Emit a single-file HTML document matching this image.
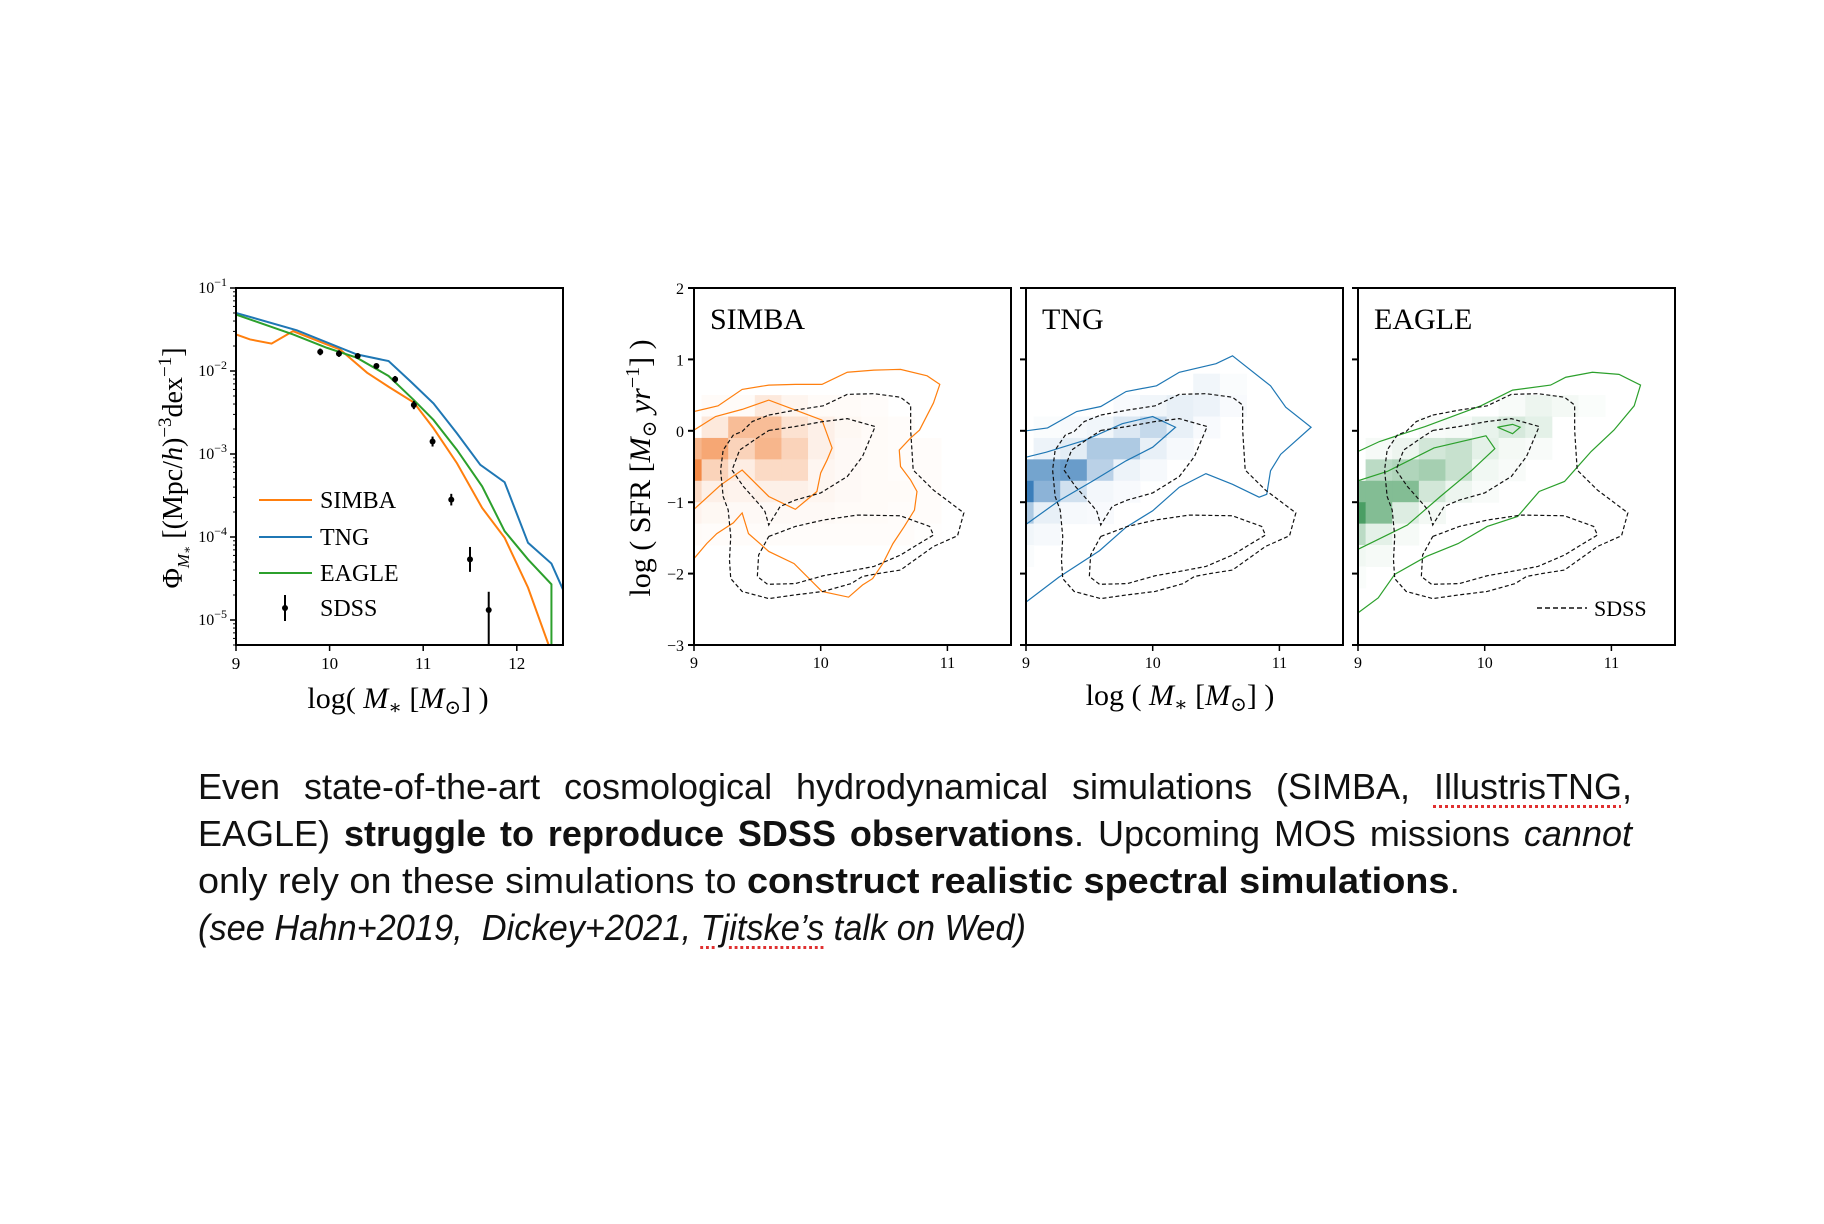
<!DOCTYPE html>
<html><head><meta charset="utf-8">
<style>
html,body{margin:0;padding:0;background:#fff;}
body{width:1824px;height:1224px;position:relative;overflow:hidden;}
svg{position:absolute;left:0;top:0;}
.serif{font-family:"Liberation Serif","DejaVu Serif",serif;}
#caption{position:absolute;left:198px;top:763px;width:1434px;font-family:"Liberation Sans","DejaVu Sans",sans-serif;font-size:36px;line-height:47px;color:#111;}
.ln{white-space:nowrap;}
.just{text-align:justify;text-align-last:justify;white-space:normal;}
.sq{text-decoration:underline dotted #e03030;text-decoration-thickness:3px;text-underline-offset:6px;}
</style></head>
<body>
<svg id="fig" width="1824" height="760" xmlns="http://www.w3.org/2000/svg"></svg>
<div id="caption">
<div class="ln just">Even state-of-the-art cosmological hydrodynamical simulations (SIMBA, <span class="sq">IllustrisTNG</span>,</div>
<div class="ln just">EAGLE) <b>struggle to reproduce SDSS observations</b>. Upcoming MOS missions <i>cannot</i></div>
<div class="ln fit" data-w="1262"><span>only rely on these simulations to <b>construct realistic spectral simulations</b>.</span></div>
<div class="ln fit" data-w="828"><span><i>(see Hahn+2019,&nbsp; Dickey+2021, <span class="sq">Tjitske’s</span> talk on Wed)</i></span></div>
</div>
<script>
// ---------- Left panel data (stellar mass function) ----------
const smfSimbaX=[9,9.15,9.38,9.61,9.97,10.11,10.4,10.63,10.9,11.11,11.36,11.63,11.87,12.12,12.34];
const smfSimbaY=[-1.56,-1.62,-1.67,-1.52,-1.68,-1.74,-2.02,-2.19,-2.38,-2.69,-3.11,-3.65,-4.01,-4.61,-5.3];
const smfTngX=[9,9.65,10.29,10.63,10.86,11.11,11.36,11.61,11.87,12.12,12.37,12.5];
const smfTngY=[-1.30,-1.51,-1.80,-1.88,-2.12,-2.39,-2.75,-3.13,-3.34,-4.07,-4.32,-4.65];
const smfEagleX=[9,9.61,9.97,10.29,10.63,10.9,11.11,11.36,11.63,11.87,12.12,12.37,12.37];
const smfEagleY=[-1.32,-1.56,-1.72,-1.84,-2.06,-2.35,-2.59,-2.95,-3.39,-3.93,-4.27,-4.57,-5.3];
const sdssX=[9.9,10.1,10.3,10.5,10.7,10.9,11.1,11.3,11.5,11.7];
const sdssY=[-1.77,-1.79,-1.82,-1.94,-2.10,-2.41,-2.85,-3.55,-4.27,-4.88];
const sdssErr=[0.04,0.04,0.03,0.03,0.04,0.05,0.06,0.07,0.15,0.22];
const smfXTicks=[9,10,11,12];
const smfYTicks=[-1,-2,-3,-4,-5];
// ---------- SFR-M* panels ----------
const panelNames=["SIMBA","TNG","EAGLE"];
const sfrXTicks=[9,10,11];
const sfrYTicks=[2,1,0,-1,-2,-3];
const binX0=8.85, binDX=0.21, binY0=0.8, binDY=0.3;
const heatSimba=[
[0,0,0,0,0,0,0,0,0,0,0,0,0],
[0,0.03,0.03,0.15,0.07,0.03,0.03,0.02,0,0,0,0,0],
[0,0.15,0.45,0.45,0.2,0.1,0.05,0.03,0.02,0,0,0,0],
[0.5,0.6,0.3,0.5,0.3,0.1,0.04,0.03,0.02,0.02,0,0,0],
[0.8,0.3,0.12,0.25,0.25,0.06,0.04,0.03,0.02,0.02,0,0,0],
[0.25,0.1,0.08,0.1,0.1,0.06,0.04,0.03,0.03,0.02,0,0,0],
[0.08,0.05,0.04,0.04,0.04,0.04,0.03,0.03,0.02,0.02,0,0,0],
[0.03,0.02,0.02,0.02,0.02,0.02,0.02,0.02,0.02,0.01,0,0,0],
[0,0,0,0,0,0,0,0,0,0,0,0,0],
[0,0,0,0,0,0,0,0,0,0,0,0,0]];
const heatTng=[
[0,0,0,0,0,0,0,0.06,0.02,0,0,0,0],
[0,0,0,0,0.03,0.06,0.1,0.08,0.03,0,0,0,0],
[0,0.02,0.04,0.06,0.15,0.25,0.1,0.03,0,0,0,0,0],
[0,0.08,0.12,0.35,0.35,0.1,0.04,0,0,0,0,0,0],
[0.6,0.6,0.65,0.3,0.08,0.04,0,0,0,0,0,0,0],
[0.85,0.5,0.2,0.05,0.03,0,0,0,0,0,0,0,0],
[0.35,0.1,0.04,0.03,0,0,0,0,0,0,0,0,0],
[0.06,0.04,0,0,0,0,0,0,0,0,0,0,0],
[0.02,0,0,0,0,0,0,0,0,0,0,0,0],
[0,0,0,0,0,0,0,0,0,0,0,0,0]];
const heatEagle=[
[0,0,0,0,0,0,0,0,0,0,0,0,0],
[0,0,0,0,0,0,0.03,0.08,0.05,0.02,0,0,0],
[0,0,0,0.03,0.04,0.1,0.18,0.12,0,0,0,0,0],
[0,0.04,0.08,0.2,0.25,0.12,0.05,0.03,0,0,0,0,0],
[0,0.3,0.35,0.4,0.25,0.06,0.03,0,0,0,0,0,0],
[0.55,0.55,0.55,0.2,0.08,0.03,0,0,0,0,0,0,0],
[0.8,0.55,0.15,0.05,0,0,0,0,0,0,0,0,0],
[0.3,0.12,0.04,0,0,0,0,0,0,0,0,0,0],
[0.06,0.04,0,0,0,0,0,0,0,0,0,0,0],
[0.02,0,0,0,0,0,0,0,0,0,0,0,0]];
const sdssOuter=[[9.59,0.22],[9.80,0.29],[10.02,0.35],[10.21,0.51],[10.42,0.52],[10.63,0.47],[10.71,0.36],[10.71,0.01],[10.73,-0.55],[10.89,-0.83],[11.13,-1.15],[11.08,-1.47],[10.89,-1.62],[10.63,-1.95],[10.45,-2.0],[10.33,-2.04],[10.24,-2.14],[10.02,-2.25],[9.79,-2.30],[9.59,-2.35],[9.38,-2.25],[9.29,-2.07],[9.28,-1.81],[9.29,-1.48],[9.27,-1.11],[9.23,-0.92],[9.21,-0.55],[9.23,-0.27],[9.31,-0.06],[9.38,-0.01],[9.46,0.13],[9.59,0.22]];
const sdssInnerUp=[[9.59,0.005],[9.80,0.06],[10.02,0.13],[10.21,0.17],[10.43,0.06],[10.33,-0.36],[10.21,-0.64],[10.0,-0.87],[9.80,-0.97],[9.68,-1.06],[9.59,-1.32],[9.56,-1.13],[9.52,-1.04],[9.39,-0.78],[9.30,-0.55],[9.36,-0.27],[9.50,-0.10],[9.59,0.005]];
const sdssInnerLow=[[9.59,-1.48],[9.80,-1.34],[10.02,-1.25],[10.29,-1.18],[10.63,-1.19],[10.86,-1.34],[10.89,-1.46],[10.74,-1.62],[10.63,-1.74],[10.42,-1.90],[10.21,-1.97],[10.02,-2.03],[9.80,-2.14],[9.58,-2.15],[9.50,-2.04],[9.51,-1.74],[9.59,-1.48]];
const simbaOuter=[[9,0.27],[9.19,0.35],[9.38,0.58],[9.59,0.64],[9.80,0.65],[10.01,0.65],[10.21,0.82],[10.42,0.85],[10.63,0.86],[10.84,0.77],[10.94,0.65],[10.89,0.39],[10.78,0.01],[10.71,-0.10],[10.62,-0.27],[10.63,-0.5],[10.71,-0.69],[10.76,-0.85],[10.74,-1.11],[10.66,-1.34],[10.57,-1.58],[10.49,-1.86],[10.41,-2.07],[10.33,-2.16],[10.22,-2.33],[10.01,-2.25],[9.79,-1.86],[9.59,-1.69],[9.52,-1.58],[9.43,-1.44],[9.38,-1.15],[9.31,-1.29],[9.18,-1.44],[9.1,-1.58],[9,-1.79]];
const simbaMid=[[9,0.01],[9.17,0.20],[9.38,0.30],[9.59,0.43],[9.80,0.29],[10.01,0.15],[10.09,-0.24],[10.05,-0.41],[10.0,-0.59],[9.97,-0.85],[9.80,-1.10],[9.59,-0.92],[9.38,-0.55],[9.21,-0.76],[9,-1.10]];
const tngOuter=[[9,0],[9.17,0.04],[9.40,0.27],[9.59,0.34],[9.79,0.55],[10.03,0.63],[10.21,0.82],[10.5,0.94],[10.63,1.05],[10.93,0.63],[11.05,0.33],[11.25,0.05],[11.01,-0.33],[10.93,-0.56],[10.90,-0.89],[10.84,-0.93],[10.63,-0.75],[10.42,-0.60],[10.21,-0.79],[10.0,-1.12],[9.79,-1.35],[9.58,-1.68],[9.26,-2.05],[9,-2.40]];
const tngMid=[[9,-0.37],[9.16,-0.30],[9.47,-0.13],[9.76,0.10],[10.0,0.2],[10.18,0.05],[10.0,-0.23],[9.79,-0.42],[9.53,-0.7],[9.26,-0.98],[9,-1.31]];
const eagleOuter=[[9,-0.29],[9.17,-0.15],[9.53,0.06],[9.97,0.35],[10.22,0.57],[10.52,0.64],[10.64,0.75],[10.85,0.82],[11.06,0.79],[11.23,0.64],[11.18,0.35],[11.02,0.01],[10.84,-0.29],[10.71,-0.55],[10.63,-0.71],[10.43,-0.85],[10.26,-1.20],[10.02,-1.34],[9.79,-1.58],[9.54,-1.76],[9.29,-2.01],[9.16,-2.34],[9,-2.55]];
const eagleMid=[[9,-0.70],[9.23,-0.57],[9.60,-0.24],[10.01,-0.07],[10.08,-0.25],[9.9,-0.55],[9.65,-0.92],[9.39,-1.32],[9,-1.66]];
const eagleTiny=[[10.10,0.05],[10.22,0.09],[10.28,0.05],[10.22,-0.04],[10.10,0.05]];

const NS="http://www.w3.org/2000/svg";
const svg=document.getElementById('fig');
function mk(tag,attrs,parent){const e=document.createElementNS(NS,tag);for(const k in attrs)e.setAttribute(k,attrs[k]);(parent||svg).appendChild(e);return e;}

// ---------- Left panel ----------
const LX0=236,LX1=563,LY0=288,LY1=645;
const lx=v=>LX0+(v-9)*93.6;
const ly=l=>LY0+(-1-l)*83;
const gL=mk('g',{});


const cpl=mk('clipPath',{id:'clipL'},gL);
mk('rect',{x:LX0,y:LY0,width:LX1-LX0,height:LY1-LY0},cpl);
function smfLine(xs,ys,col,name){
  const p=mk('polyline',{points:xs.map((x,i)=>lx(x)+','+ly(ys[i])).join(' '),fill:'none',stroke:col,'stroke-width':2,'clip-path':'url(#clipL)'},gL);
  
  
}
smfLine(smfSimbaX,smfSimbaY,'#ff7f0e','simba-smf-line');
smfLine(smfTngX,smfTngY,'#1f77b4','tng-smf-line');
smfLine(smfEagleX,smfEagleY,'#2ca02c','eagle-smf-line');
sdssX.forEach((x,i)=>{
  const yt=ly(sdssY[i]+sdssErr[i]);
  const yb=i===sdssX.length-1?LY1:ly(sdssY[i]-sdssErr[i]);
  const e=mk('line',{x1:lx(x),x2:lx(x),y1:yt,y2:yb,stroke:'#000','stroke-width':2},gL);
  
  
  const c=mk('circle',{cx:lx(x),cy:ly(sdssY[i]),r:3,fill:'#000'},gL);
  
  
});
mk('rect',{x:LX0,y:LY0,width:LX1-LX0,height:LY1-LY0,fill:'none',stroke:'#000','stroke-width':2},gL);
smfXTicks.forEach(t=>{
  mk('line',{x1:lx(t),x2:lx(t),y1:LY1,y2:LY1+6,stroke:'#000','stroke-width':1.5},gL);
  const tx=mk('text',{x:lx(t),y:LY1+24,'text-anchor':'middle','font-size':17,class:'serif'},gL);tx.textContent=t;
  
  
});
smfYTicks.forEach(t=>{
  mk('line',{x1:LX0-6,x2:LX0,y1:ly(t),y2:ly(t),stroke:'#000','stroke-width':1.5},gL);
  for(let m=2;m<10;m++){const yy=ly(t-1+Math.log10(m));if(yy>=LY0&&yy<=LY1)mk('line',{x1:LX0-3,x2:LX0,y1:yy,y2:yy,stroke:'#000','stroke-width':1},gL);}
  const tx=mk('text',{x:LX0-9,y:ly(t)+5,'text-anchor':'end','font-size':16,class:'serif'},gL);
  tx.innerHTML='10<tspan dy="-7" font-size="12">−'+(-t)+'</tspan>';
  
  
});
const legCols=['#ff7f0e','#1f77b4','#2ca02c'],legNames=['SIMBA','TNG','EAGLE','SDSS'],legY=[500,537,573,608];
legNames.forEach((n,i)=>{
  if(i<3)mk('line',{x1:259,x2:312,y1:legY[i],y2:legY[i],stroke:legCols[i],'stroke-width':2},gL);
  else{mk('line',{x1:285,x2:285,y1:legY[i]-13,y2:legY[i]+13,stroke:'#000','stroke-width':2},gL);mk('circle',{cx:285,cy:legY[i],r:3,fill:'#000'},gL);}
  const t=mk('text',{x:320,y:legY[i]+8,'font-size':24,class:'serif'},gL);t.textContent=n;
  
  
});
const xlL=mk('text',{x:398,y:708,'text-anchor':'middle','font-size':30,class:'serif'},gL);
xlL.innerHTML='log( <tspan font-style="italic">M</tspan><tspan font-size="20" dy="6">∗</tspan><tspan dy="-6"> [</tspan><tspan font-style="italic">M</tspan><tspan font-size="20" dy="6">⊙</tspan><tspan dy="-6">] )</tspan>';


const ylL=mk('text',{x:0,y:0,'text-anchor':'middle','font-size':28,class:'serif',transform:'translate(182,468) rotate(-90)'},gL);
ylL.innerHTML='Φ<tspan font-size="17" dy="7" font-style="italic">M</tspan><tspan font-size="12" dy="2">∗</tspan><tspan dy="-9"> [(Mpc/</tspan><tspan font-style="italic">h</tspan>)<tspan font-size="19" dy="-11">−3</tspan><tspan dy="11">dex</tspan><tspan font-size="19" dy="-11">−1</tspan><tspan dy="11">]</tspan>';



// ---------- SFR panels ----------
const PL=[694,1026,1358],PW=317,PY0=288,PY1=645;
const heats=[heatSimba,heatTng,heatEagle];
const heatCol=[[240,115,35],[35,110,178],[40,140,70]];
const lineCol=['#ff7f0e','#1f77b4','#2ca02c'];
const simContours=[[simbaOuter,simbaMid],[tngOuter,tngMid],[eagleOuter,eagleMid,eagleTiny]];
panelNames.forEach((name,p)=>{
  const L=PL[p];
  const px=v=>L+(v-9)*126.7, py=v=>PY0+(2-v)*71.4;
  const g=mk('g',{});
  
  
  const cp=mk('clipPath',{id:'clip'+p},g);mk('rect',{x:L,y:PY0,width:PW,height:PY1-PY0},cp);
  const gh=mk('g',{'clip-path':'url(#clip'+p+')'},g);
  heats[p].forEach((row,r)=>row.forEach((v,c)=>{
    if(v<=0)return;
    const x0=px(binX0+c*binDX),x1=px(binX0+(c+1)*binDX),y0=py(binY0-r*binDY),y1=py(binY0-(r+1)*binDY);
    const col=heatCol[p].map(k=>Math.round(255-(255-k)*Math.min(1,v*1.05)));
    const cell=mk('rect',{x:x0,y:y0,width:x1-x0+0.5,height:y1-y0+0.5,fill:'rgb('+col.join(',')+')'},gh);
    
    
  }));
  simContours[p].forEach(c=>{
    const pl=mk('polyline',{points:c.map(q=>px(q[0])+','+py(q[1])).join(' '),fill:'none',stroke:lineCol[p],'stroke-width':1.2},gh);
    
    
  });
  [sdssOuter,sdssInnerUp,sdssInnerLow].forEach(c=>{
    const pl=mk('polyline',{points:c.map(q=>px(q[0])+','+py(q[1])).join(' '),fill:'none',stroke:'#111','stroke-width':1.2,'stroke-dasharray':'4,2.5'},gh);
    
    
  });
  mk('rect',{x:L,y:PY0,width:PW,height:PY1-PY0,fill:'none',stroke:'#000','stroke-width':2},g);
  const ti=mk('text',{x:L+16,y:329,'font-size':30,class:'serif'},g);ti.textContent=name;
  
  
  sfrXTicks.forEach(t=>{
    mk('line',{x1:px(t),x2:px(t),y1:PY1,y2:PY1+6,stroke:'#000','stroke-width':1.5},g);
    const tx=mk('text',{x:px(t),y:PY1+23,'text-anchor':'middle','font-size':16,class:'serif'},g);tx.textContent=t;
    
    
  });
  sfrYTicks.forEach(t=>{
    mk('line',{x1:L-6,x2:L,y1:py(t),y2:py(t),stroke:'#000','stroke-width':2},g);
    if(p===0){const tx=mk('text',{x:L-10,y:py(t)+6,'text-anchor':'end','font-size':16,class:'serif'},g);tx.textContent=t<0?'−'+(-t):t;
      
      }
  });
  if(p===2){
    mk('line',{x1:1537,x2:1587,y1:608,y2:608,stroke:'#111','stroke-width':1.5,'stroke-dasharray':'5,3'},g);
    const t=mk('text',{x:1594,y:616,'font-size':22,class:'serif'},g);t.textContent='SDSS';
    
    
  }
});
const xlR=mk('text',{x:1180,y:705,'text-anchor':'middle','font-size':30,class:'serif'});
xlR.innerHTML='log ( <tspan font-style="italic">M</tspan><tspan font-size="20" dy="6">∗</tspan><tspan dy="-6">  [</tspan><tspan font-style="italic">M</tspan><tspan font-size="20" dy="6">⊙</tspan><tspan dy="-6">] )</tspan>';


const ylR=mk('text',{x:0,y:0,'text-anchor':'middle','font-size':30,class:'serif',transform:'translate(650,468) rotate(-90)'});
ylR.innerHTML='log ( SFR [<tspan font-style="italic">M</tspan><tspan font-size="20" dy="6">⊙</tspan><tspan dy="-6" font-style="italic"> yr</tspan><tspan font-size="20" dy="-11">−1</tspan><tspan dy="11">] )</tspan>';



document.querySelectorAll('.fit').forEach(d=>{
  const s=d.firstElementChild;s.style.display='inline-block';s.style.transformOrigin='0 0';
  const w=s.getBoundingClientRect().width;const tw=+d.dataset.w;
  if(w>0)s.style.transform='scaleX('+(tw/w)+')';
});
</script>
</body></html>
